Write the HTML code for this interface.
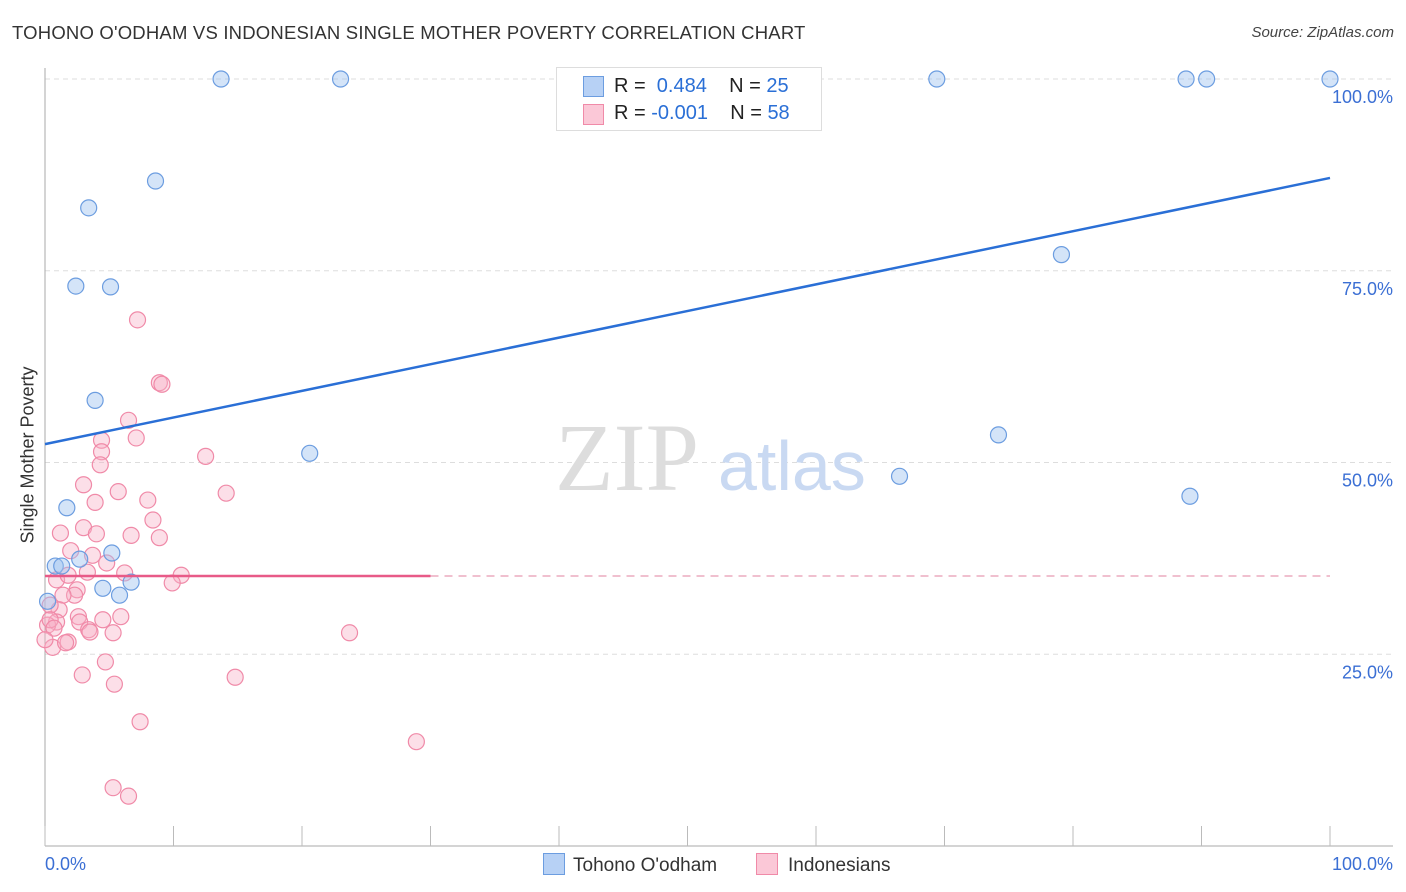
<!DOCTYPE html>
<html><head><meta charset="utf-8"><style>
body{margin:0;background:#fff;font-family:"Liberation Sans",sans-serif}
#wrap{position:relative;width:1406px;height:892px;overflow:hidden}
.t{position:absolute;white-space:nowrap}
</style></head><body>
<div id="wrap">
<div class="t" style="left:12px;top:22px;font-size:18.5px;color:#333;letter-spacing:0.2px">TOHONO O'ODHAM VS INDONESIAN SINGLE MOTHER POVERTY CORRELATION CHART</div>
<div class="t" style="right:12px;top:24px;font-size:15px;color:#444;font-style:italic">Source: ZipAtlas.com</div>
<div class="t" style="left:28px;top:455px;font-size:18px;color:#333;transform:translate(-50%,-50%) rotate(-90deg)">Single Mother Poverty</div>
<svg id="svg" width="1406" height="892" style="position:absolute;left:0;top:0"></svg>
</div>
<script>
const blueX=[13.7,23.0,69.4,88.8,90.4,100,8.6,3.4,2.4,5.1,79.1,3.9,20.6,74.2,66.5,89.1,1.7,5.2,2.7,0.8,1.3,4.5,6.7,5.8,0.2];
const blueY=[100,100,100,100,100,100,86.7,83.2,73.0,72.9,77.1,58.1,51.2,53.6,48.2,45.6,44.1,38.2,37.4,36.5,36.5,33.6,34.4,32.7,31.9];
const pinkX=[7.2,8.9,9.1,6.5,7.1,4.4,4.4,4.3,12.5,14.1,3.0,5.7,8.0,3.9,8.4,1.2,3.0,4.0,6.7,8.9,2.0,3.7,4.8,0.9,1.8,3.3,6.2,10.6,9.9,2.5,2.3,1.4,1.1,0.4,0.9,0.2,2.6,2.7,4.5,5.9,3.4,3.5,5.3,23.7,1.8,0.6,1.6,4.7,2.9,5.4,14.8,7.4,28.9,5.3,6.5,0.4,0.7,0.0];
const pinkY=[68.6,60.4,60.2,55.5,53.2,52.9,51.4,49.7,50.8,46.0,47.1,46.2,45.1,44.8,42.5,40.8,41.5,40.7,40.5,40.2,38.5,37.9,36.9,34.7,35.3,35.7,35.6,35.3,34.3,33.4,32.7,32.7,30.8,31.4,29.2,28.8,29.9,29.2,29.5,29.9,28.2,27.9,27.8,27.8,26.6,25.9,26.5,24.0,22.3,21.1,22.0,16.2,13.6,7.6,6.5,29.5,28.4,26.9];
const blueTrend=[52.4,87.1];
const pinkTrend=[35.2,35.2];
const yTicks=[25,50,75,100];
const yTickLabels=["25.0%","50.0%","75.0%","100.0%"];
const xTicks=[0,10,20,30,40,50,60,70,80,90,100];

const NS="http://www.w3.org/2000/svg";
const svg=document.getElementById('svg');
const X=v=>45+v*12.85, Y=v=>846-v*7.67;
function mk(t,a){const e=document.createElementNS(NS,t);for(const k in a)e.setAttribute(k,a[k]);svg.appendChild(e);return e;}
yTicks.forEach((v,i)=>{
 const g=mk('line',{x1:45,x2:1393,y1:Y(v),y2:Y(v),stroke:'#ddd','stroke-dasharray':'5,4'});
 
 
 const t=mk('text',{x:1393,y:Y(v)+24,'text-anchor':'end','font-size':18,fill:'#3b6fd4','font-family':'Liberation Sans'});
 t.textContent=yTickLabels[i];
 
 
});
const ax=mk('line',{x1:45,x2:45,y1:68,y2:846,stroke:'#aaa'});


const bx=mk('line',{x1:45,x2:1393,y1:846,y2:846,stroke:'#aaa'});


xTicks.forEach(v=>{const l=mk('line',{x1:X(v),x2:X(v),y1:826,y2:846,stroke:'#bbb'});
 
 });
[['0.0%',45,'start'],['100.0%',1393,'end']].forEach(a=>{const t=mk('text',{x:a[1],y:870,'text-anchor':a[2],'font-size':18,fill:'#3b6fd4','font-family':'Liberation Sans'});t.textContent=a[0];
 
 });
const w1=mk('text',{x:555,y:490,'font-size':96,fill:'#ddd','font-family':'Liberation Serif'});w1.textContent='ZIP';


const w2=mk('text',{x:718,y:490,'font-size':70,fill:'#c9d9f2','font-family':'Liberation Sans'});w2.textContent='atlas';


pinkX.forEach((x,i)=>{const c=mk('circle',{cx:X(x),cy:Y(pinkY[i]),r:8,fill:'rgba(248,175,198,0.4)',stroke:'#f08aa8','stroke-width':1.2});
 
 });
blueX.forEach((x,i)=>{const c=mk('circle',{cx:X(x),cy:Y(blueY[i]),r:8,fill:'rgba(160,195,240,0.45)',stroke:'#6c9de0','stroke-width':1.2});
 
 });
const bl=mk('line',{x1:X(0),y1:Y(blueTrend[0]),x2:X(100),y2:Y(blueTrend[1]),stroke:'#2a6fd6','stroke-width':2.5});


const pl=mk('line',{x1:X(0),y1:Y(pinkTrend[0]),x2:X(30),y2:Y(pinkTrend[0]+(pinkTrend[1]-pinkTrend[0])*0.3),stroke:'#e85a88','stroke-width':2.5});


const pd=mk('line',{x1:X(30),y1:Y(pinkTrend[0]),x2:X(100),y2:Y(pinkTrend[1]),stroke:'#e89ab2','stroke-width':1.2,'stroke-dasharray':'8,6'});


</script>
<div style="position:absolute;left:556px;top:67px;width:264px;height:62px;border:1px solid #ddd;background:#fff;font-size:20px">
 <div style="position:absolute;left:26px;top:8px;width:19px;height:19px;background:#b7d1f5;border:1px solid #6c9de0"></div>
 <div class="t" style="left:57px;top:7px;color:#222">R = <span style="color:#2a6fd6">&nbsp;0.484</span>&nbsp;&nbsp;&nbsp; N = <span style="color:#2a6fd6">25</span></div>
 <div style="position:absolute;left:26px;top:36px;width:19px;height:19px;background:#fbc8d7;border:1px solid #f08aa8"></div>
 <div class="t" style="left:57px;top:34px;color:#222">R = <span style="color:#2a6fd6">-0.001</span>&nbsp;&nbsp;&nbsp; N = <span style="color:#2a6fd6">58</span></div>
</div>
<div style="position:absolute;left:543px;top:853px;font-size:19px;color:#333">
 <span style="display:inline-block;width:20px;height:20px;background:#b7d1f5;border:1px solid #6c9de0;vertical-align:-4px;margin-right:8px"></span>Tohono O'odham</div>
<div style="position:absolute;left:756px;top:853px;font-size:19px;color:#333">
 <span style="display:inline-block;width:20px;height:20px;background:#fbc8d7;border:1px solid #f08aa8;vertical-align:-4px;margin-right:10px"></span>Indonesians</div>
</body></html>
